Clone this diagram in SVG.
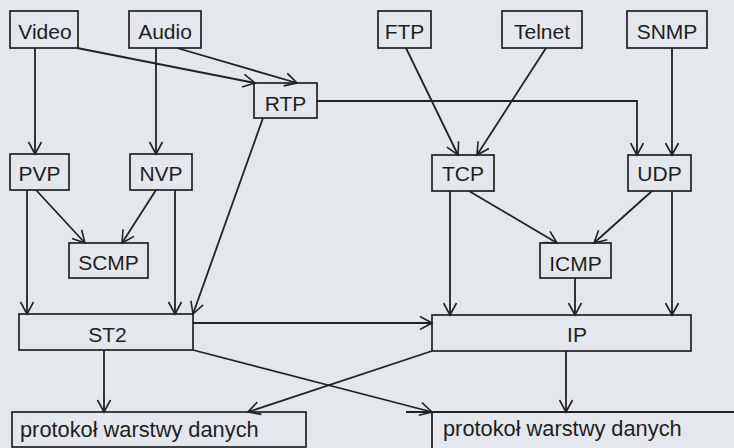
<svg xmlns="http://www.w3.org/2000/svg" width="734" height="448" viewBox="0 0 734 448">
<style>
.bx{fill:none;stroke:#222;stroke-width:1.7}
.t{font-family:"Liberation Sans",Arial,sans-serif;font-size:21px;fill:#1e1e1e;text-anchor:middle}
.tl{font-family:"Liberation Sans",Arial,sans-serif;font-size:21.8px;fill:#1e1e1e}
.c{fill:none;stroke:#222;stroke-width:1.8;marker-end:url(#ah)}
.n{fill:none;stroke:#222;stroke-width:1.8}
</style>
<defs>
<marker id="ah" markerUnits="userSpaceOnUse" markerWidth="16" markerHeight="16" viewBox="-14 -8 16 16" refX="0" refY="0" orient="auto">
<path d="M-12,-6.5 L0,0 L-12,6.5" fill="none" stroke="#222" stroke-width="1.6"/>
</marker>
</defs>
<rect width="734" height="448" fill="#e4e8ec"/>
<g id="connectors">
<path class="c" d="M35,48 L35,154"/>
<path class="c" d="M156,48 L156,154"/>
<path class="c" d="M77,48 L255,83"/>
<path class="c" d="M177,48 L297,83"/>
<path class="c" d="M406,48 L458,155"/>
<path class="c" d="M546,48 L477,155"/>
<path class="c" d="M672,48 L672,155"/>
<path class="c" d="M317,101 L637,101 L637,155"/>
<path class="c" d="M263,118 L193,314"/>
<path class="c" d="M27,190 L27,314"/>
<path class="c" d="M36,190 L85,243"/>
<path class="c" d="M156,190 L122,243"/>
<path class="c" d="M175,190 L175,314"/>
<path class="c" d="M450,191 L450,315"/>
<path class="c" d="M469,191 L557,243"/>
<path class="c" d="M652,191 L594,243"/>
<path class="c" d="M575,278 L575,315"/>
<path class="c" d="M672,191 L672,315"/>
<path class="c" d="M193,323 L432,323"/>
<path class="c" d="M104,350 L104,412"/>
<path class="c" d="M193,350 L432,412"/>
<path class="c" d="M432,351 L248,412"/>
<path class="c" d="M566,351 L566,412"/>
</g>
<g id="video"><rect class="bx" x="10" y="11" width="68" height="37"/><text class="t" x="45" y="38.5">Video</text></g>
<g id="audio"><rect class="bx" x="129" y="11" width="72" height="37"/><text class="t" x="165" y="38.5">Audio</text></g>
<g id="ftp"><rect class="bx" x="378" y="11" width="53" height="37"/><text class="t" x="404.5" y="38.5">FTP</text></g>
<g id="telnet"><rect class="bx" x="502" y="11" width="80" height="37"/><text class="t" x="542" y="38.5">Telnet</text></g>
<g id="snmp"><rect class="bx" x="627" y="11" width="80" height="37"/><text class="t" x="667" y="38.5">SNMP</text></g>
<g id="rtp"><rect class="bx" x="254" y="83" width="63" height="35"/><text class="t" x="285.5" y="111">RTP</text></g>
<g id="pvp"><rect class="bx" x="10" y="154" width="59" height="36"/><text class="t" x="39.5" y="181">PVP</text></g>
<g id="nvp"><rect class="bx" x="130" y="154" width="62" height="36"/><text class="t" x="161" y="181">NVP</text></g>
<g id="tcp"><rect class="bx" x="432" y="155" width="62" height="36"/><text class="t" x="463" y="181">TCP</text></g>
<g id="udp"><rect class="bx" x="628" y="155" width="63" height="36"/><text class="t" x="659.5" y="181">UDP</text></g>
<g id="scmp"><rect class="bx" x="69" y="243" width="79" height="35"/><text class="t" x="108.5" y="270">SCMP</text></g>
<g id="icmp"><rect class="bx" x="540" y="243" width="71" height="35"/><text class="t" x="575.5" y="271">ICMP</text></g>
<g id="st2"><rect class="bx" x="19" y="314" width="174" height="36"/><text class="t" x="107.5" y="342">ST2</text></g>
<g id="ip"><rect class="bx" x="432" y="315" width="259" height="36"/><text class="t" x="577" y="342">IP</text></g>
<g id="dl-left"><rect class="bx" x="12" y="412" width="294" height="35"/><text class="tl" x="20" y="437">protokoł warstwy danych</text></g>
<g id="dl-right"><path class="n" d="M406,412 L736,412 M432,412 L432,450"/><text class="tl" x="443" y="436">protokoł warstwy danych</text></g>
</svg>
